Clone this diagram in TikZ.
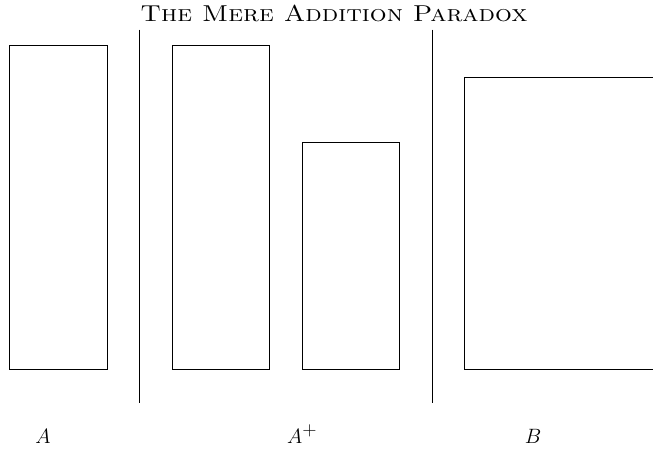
\documentclass[tikz,border=0pt]{standalone}
\begin{document}
\begin{tikzpicture}[x=1pt,y=-1pt,
  box/.style={draw=black,line width=0.6pt},
  divider/.style={draw=black,line width=1pt},
  lbl/.style={font=\fontsize{22}{26}\selectfont,anchor=base,inner sep=0pt}]
\useasboundingbox (0,0) rectangle (653,448);
\node[lbl,font=\fontsize{23}{27}\selectfont] (title) at (334,21) {\scalebox{1.15}[1]{\textsc{The Mere Addition Paradox}}};
\draw[box] (9.5,45.5) rectangle (107.5,369.5);
\draw[box] (172.5,45.5) rectangle (269.5,369.5);
\draw[box] (302.5,142.5) rectangle (399.5,369.5);
\draw[box] (653,77.5) -- (464.5,77.5) -- (464.5,369.5) -- (653,369.5);
\coordinate (d1t) at (139.5,29.5);
\coordinate (d1b) at (139.5,403);
\coordinate (d2t) at (432,29.5);
\coordinate (d2b) at (432,403);
\draw[divider] (d1t) -- (d1b);
\draw[divider] (d2t) -- (d2b);
\node[lbl] (la) at (43,443) {$A$};
\node[lbl,anchor=base west] (lap) at (287,443) {$A^{\scalebox{1.3}{$\scriptstyle+$}}$};
\node[lbl] (lb) at (533,443) {$B$};
\end{tikzpicture}
\end{document}
